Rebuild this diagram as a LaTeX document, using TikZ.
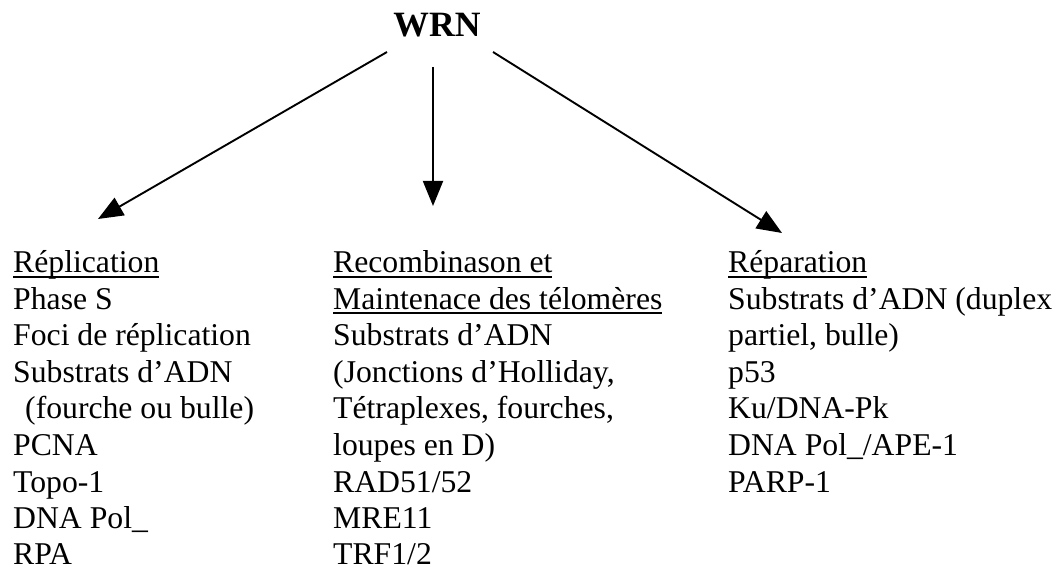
\documentclass[tikz,border=0pt]{standalone}
\usepackage{fontspec}
\setmainfont{Liberation Serif}
\usetikzlibrary{arrows.meta}
\newcommand\myul[1]{\leavevmode\setbox0\hbox{#1}\rlap{\rule[-4.5pt]{\wd0}{1.8pt}}\box0}
\tikzset{
  coltext/.style={anchor=base west, inner sep=0pt, font=\fontsize{31.7}{36.5}\selectfont},
  titletext/.style={anchor=base, inner sep=0pt, font=\fontsize{35.6}{40}\selectfont\bfseries},
  conn/.style={line width=1.9pt, -{Triangle[length=25pt,width=20pt]}}
}
\begin{document}
\begin{tikzpicture}[x=1pt,y=-1pt]
\useasboundingbox (0,0) rectangle (1060,569);
\node[titletext] (wrn) at (437,37) {WRN};
\node[coltext] (rep) at (13,273) {\begin{tabular}[t]{@{}l@{}}
\myul{Réplication}\\
Phase S\\
Foci de réplication\\
Substrats d’ADN\\
\hspace*{12pt}(fourche ou bulle)\\
PCNA\\
Topo-1\\
DNA Pol\_\\
RPA
\end{tabular}};
\node[coltext] (rec) at (333,273) {\begin{tabular}[t]{@{}l@{}}
\myul{Recombinason et}\\
\myul{Maintenace des télomères}\\
Substrats d’ADN\\
(Jonctions d’Holliday,\\
Tétraplexes, fourches,\\
loupes en D)\\
RAD51/52\\
MRE11\\
TRF1/2
\end{tabular}};
\node[coltext] (repa) at (728,273) {\begin{tabular}[t]{@{}l@{}}
\myul{Réparation}\\
Substrats d’ADN (duplex\\
partiel, bulle)\\
p53\\
Ku/DNA-Pk\\
DNA Pol\_/APE-1\\
PARP-1
\end{tabular}};
\coordinate (sl) at (387,52);
\coordinate (sm) at (433,67);
\coordinate (sr) at (493,52);
\coordinate (tl) at (98,219);
\coordinate (tm) at (433,206);
\coordinate (tr) at (782,233);
\draw[conn] (sl) -- (tl);
\draw[conn] (sm) -- (tm);
\draw[conn] (sr) -- (tr);
\end{tikzpicture}
\end{document}
